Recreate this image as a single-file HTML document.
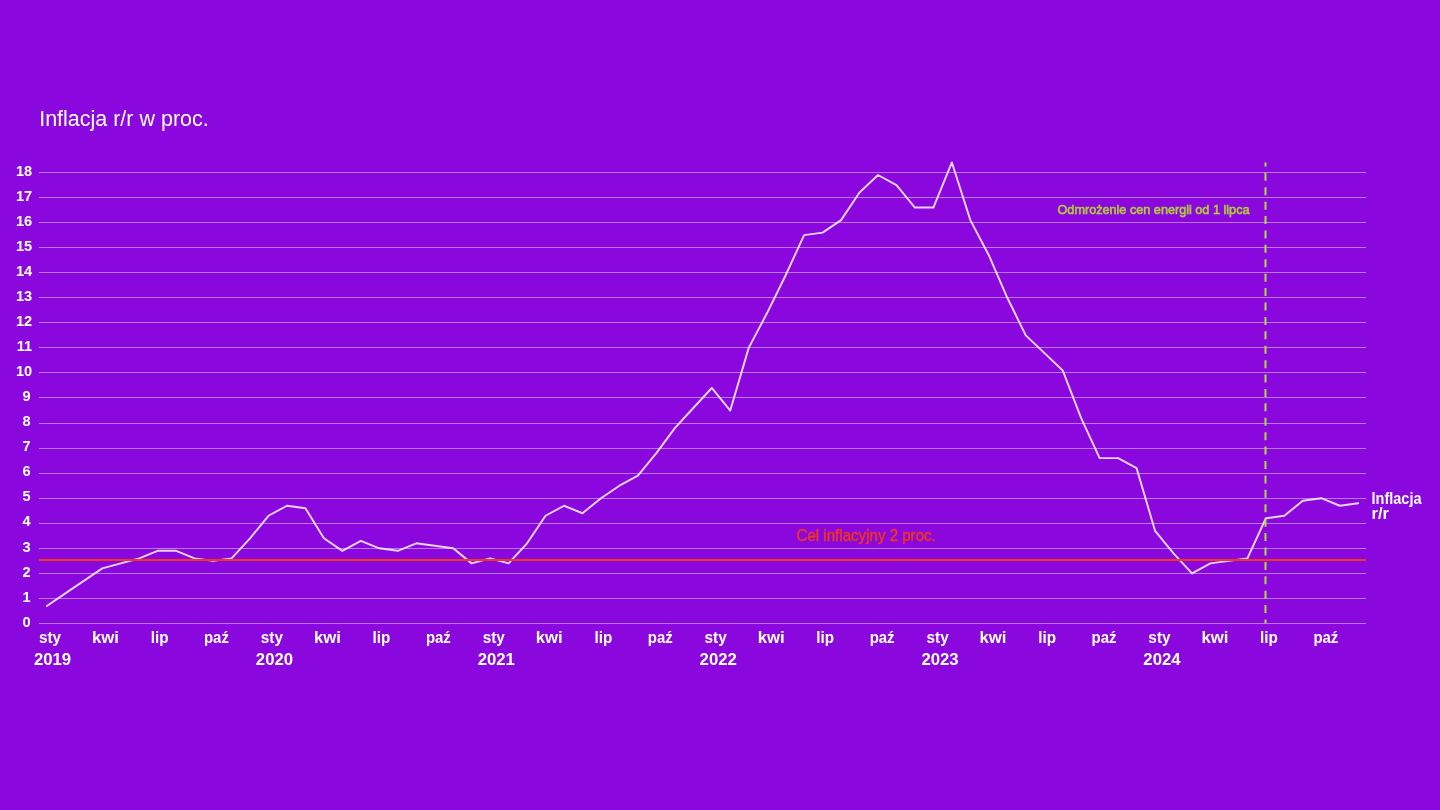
<!DOCTYPE html>
<html><head><meta charset="utf-8"><style>
html,body{margin:0;padding:0;background:#8a08de;width:1440px;height:810px;overflow:hidden}
svg{display:block;will-change:transform;font-family:"Liberation Sans",sans-serif}
</style></head><body>
<svg width="1440" height="810" viewBox="0 0 1440 810">
<rect width="1440" height="810" fill="#8a08de"/>
<text x="39.2" y="125.8" fill="#fff" font-size="22" textLength="169.5" lengthAdjust="spacingAndGlyphs">Inflacja r/r w proc.</text>
<g stroke="#b978ea" stroke-width="1"><line x1="39" x2="1366" y1="623.5" y2="623.5"/><line x1="39" x2="1366" y1="598.5" y2="598.5"/><line x1="39" x2="1366" y1="573.5" y2="573.5"/><line x1="39" x2="1366" y1="548.5" y2="548.5"/><line x1="39" x2="1366" y1="523.5" y2="523.5"/><line x1="39" x2="1366" y1="498.5" y2="498.5"/><line x1="39" x2="1366" y1="473.5" y2="473.5"/><line x1="39" x2="1366" y1="448.5" y2="448.5"/><line x1="39" x2="1366" y1="423.5" y2="423.5"/><line x1="39" x2="1366" y1="397.5" y2="397.5"/><line x1="39" x2="1366" y1="372.5" y2="372.5"/><line x1="39" x2="1366" y1="347.5" y2="347.5"/><line x1="39" x2="1366" y1="322.5" y2="322.5"/><line x1="39" x2="1366" y1="297.5" y2="297.5"/><line x1="39" x2="1366" y1="272.5" y2="272.5"/><line x1="39" x2="1366" y1="247.5" y2="247.5"/><line x1="39" x2="1366" y1="222.5" y2="222.5"/><line x1="39" x2="1366" y1="197.5" y2="197.5"/><line x1="39" x2="1366" y1="172.5" y2="172.5"/></g>
<g fill="#fff" font-size="14.6" font-weight="bold" text-anchor="end"><text x="30.6" y="626.70">0</text><text x="30.6" y="601.64">1</text><text x="30.6" y="576.59">2</text><text x="30.6" y="551.53">3</text><text x="30.6" y="526.48">4</text><text x="30.6" y="501.42">5</text><text x="30.6" y="476.36">6</text><text x="30.6" y="451.31">7</text><text x="30.6" y="426.25">8</text><text x="30.6" y="401.20">9</text><text x="32.2" y="376.14">10</text><text x="32.2" y="351.08">11</text><text x="32.2" y="326.03">12</text><text x="32.2" y="300.97">13</text><text x="32.2" y="275.92">14</text><text x="32.2" y="250.86">15</text><text x="32.2" y="225.80">16</text><text x="32.2" y="200.75">17</text><text x="32.2" y="175.69">18</text></g>
<g fill="#fff" font-size="16" font-weight="bold" text-anchor="middle"><text x="50.05" y="642.9" textLength="22.2" lengthAdjust="spacingAndGlyphs">sty</text><text x="105.52" y="642.9" textLength="27.0" lengthAdjust="spacingAndGlyphs">kwi</text><text x="159.59" y="642.9" textLength="17.8" lengthAdjust="spacingAndGlyphs">lip</text><text x="216.46" y="642.9" textLength="24.9" lengthAdjust="spacingAndGlyphs">paź</text><text x="271.93" y="642.9" textLength="22.2" lengthAdjust="spacingAndGlyphs">sty</text><text x="327.40" y="642.9" textLength="27.0" lengthAdjust="spacingAndGlyphs">kwi</text><text x="381.47" y="642.9" textLength="17.8" lengthAdjust="spacingAndGlyphs">lip</text><text x="438.34" y="642.9" textLength="24.9" lengthAdjust="spacingAndGlyphs">paź</text><text x="493.81" y="642.9" textLength="22.2" lengthAdjust="spacingAndGlyphs">sty</text><text x="549.28" y="642.9" textLength="27.0" lengthAdjust="spacingAndGlyphs">kwi</text><text x="603.35" y="642.9" textLength="17.8" lengthAdjust="spacingAndGlyphs">lip</text><text x="660.22" y="642.9" textLength="24.9" lengthAdjust="spacingAndGlyphs">paź</text><text x="715.69" y="642.9" textLength="22.2" lengthAdjust="spacingAndGlyphs">sty</text><text x="771.16" y="642.9" textLength="27.0" lengthAdjust="spacingAndGlyphs">kwi</text><text x="825.23" y="642.9" textLength="17.8" lengthAdjust="spacingAndGlyphs">lip</text><text x="882.10" y="642.9" textLength="24.9" lengthAdjust="spacingAndGlyphs">paź</text><text x="937.57" y="642.9" textLength="22.2" lengthAdjust="spacingAndGlyphs">sty</text><text x="993.04" y="642.9" textLength="27.0" lengthAdjust="spacingAndGlyphs">kwi</text><text x="1047.11" y="642.9" textLength="17.8" lengthAdjust="spacingAndGlyphs">lip</text><text x="1103.98" y="642.9" textLength="24.9" lengthAdjust="spacingAndGlyphs">paź</text><text x="1159.45" y="642.9" textLength="22.2" lengthAdjust="spacingAndGlyphs">sty</text><text x="1214.92" y="642.9" textLength="27.0" lengthAdjust="spacingAndGlyphs">kwi</text><text x="1268.99" y="642.9" textLength="17.8" lengthAdjust="spacingAndGlyphs">lip</text><text x="1325.86" y="642.9" textLength="24.9" lengthAdjust="spacingAndGlyphs">paź</text><text x="52.55" y="665.0" textLength="37.2" lengthAdjust="spacingAndGlyphs">2019</text><text x="274.43" y="665.0" textLength="37.2" lengthAdjust="spacingAndGlyphs">2020</text><text x="496.31" y="665.0" textLength="37.2" lengthAdjust="spacingAndGlyphs">2021</text><text x="718.19" y="665.0" textLength="37.2" lengthAdjust="spacingAndGlyphs">2022</text><text x="940.07" y="665.0" textLength="37.2" lengthAdjust="spacingAndGlyphs">2023</text><text x="1161.95" y="665.0" textLength="37.2" lengthAdjust="spacingAndGlyphs">2024</text></g>
<text x="796.5" y="540.8" fill="#f2361c" stroke="#f2361c" stroke-width="0.45" font-size="16.2" textLength="139.3" lengthAdjust="spacingAndGlyphs">Cel inflacyjny 2 proc.</text>
<text x="1057.5" y="214.4" fill="#b4cc3c" stroke="#b4cc3c" stroke-width="0.6" font-size="13.5" textLength="192" lengthAdjust="spacingAndGlyphs">Odmrożenie cen energii od 1 lipca</text>
<polyline points="46.85,605.96 65.32,593.43 83.79,580.90 102.26,568.38 120.73,563.37 139.20,558.35 157.67,550.84 176.14,550.84 194.61,558.35 213.08,560.86 231.55,558.35 250.02,538.31 268.49,515.76 286.96,505.74 305.43,508.24 323.90,538.31 342.37,550.84 360.84,540.82 379.31,548.33 397.78,550.84 416.25,543.32 434.72,545.83 453.19,548.33 471.66,563.37 490.13,558.35 508.60,563.37 527.07,543.32 545.54,515.76 564.01,505.74 582.48,513.25 600.95,498.22 619.42,485.69 637.89,475.67 656.36,453.12 674.83,428.06 693.30,408.02 711.77,387.97 730.24,410.52 748.71,347.88 767.18,312.81 785.65,275.22 804.12,235.13 822.59,232.63 841.06,220.10 859.53,192.54 878.00,175.00 896.47,185.02 914.94,207.57 933.41,207.57 951.88,162.47 970.35,220.10 988.82,255.18 1007.29,297.77 1025.76,335.36 1044.23,352.90 1062.70,370.43 1081.17,418.04 1099.64,458.13 1118.11,458.13 1136.58,468.15 1155.05,530.79 1173.52,553.34 1191.99,573.39 1210.46,563.37 1228.93,560.86 1247.40,558.35 1265.87,518.26 1284.34,515.76 1302.81,500.73 1321.28,498.22 1339.75,505.74 1358.22,503.23" fill="none" stroke="#fff" stroke-opacity="0.82" stroke-width="1.95" stroke-linejoin="round" stroke-linecap="round"/>
<line x1="39" x2="1366" y1="560" y2="560" stroke="#f2361c" stroke-width="2"/>
<line x1="1265.5" x2="1265.5" y1="162.4" y2="623.3" stroke="#b0dc38" stroke-width="2" stroke-dasharray="8 6.41" stroke-dashoffset="4.0"/>
<text x="1371.5" y="503.8" fill="#fff" font-size="16" font-weight="bold" textLength="50" lengthAdjust="spacingAndGlyphs">Inflacja</text>
<text x="1371.5" y="518.8" fill="#fff" font-size="16" font-weight="bold" textLength="17.5" lengthAdjust="spacingAndGlyphs">r/r</text>
</svg>
</body></html>
